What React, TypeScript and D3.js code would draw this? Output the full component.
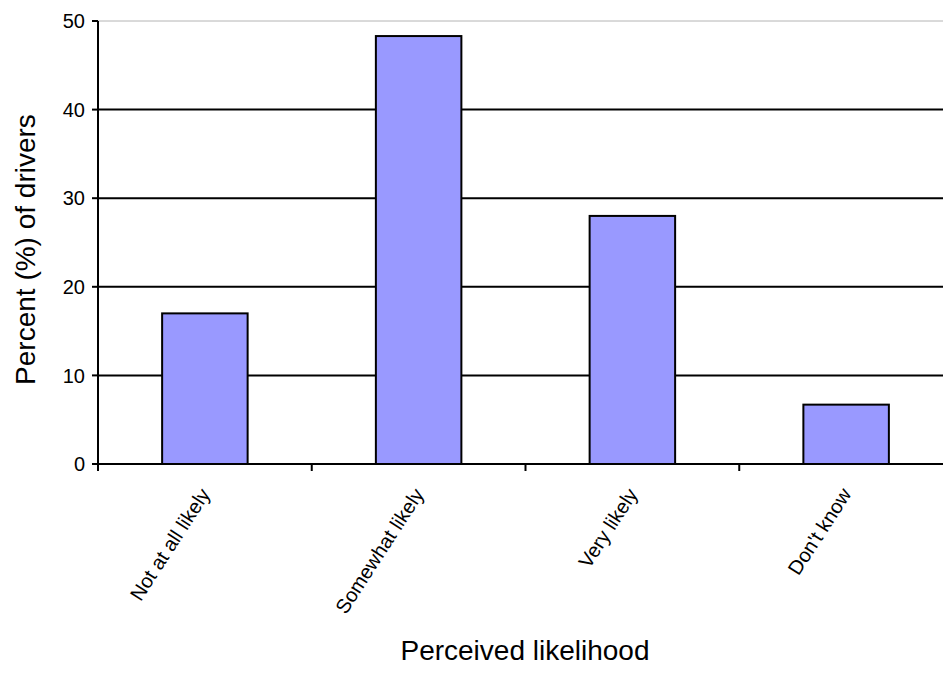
import React from "react";
import * as d3 from "d3";

const categories = ["Not at all likely", "Somewhat likely", "Very likely", "Don't know"];
const values = [17, 48.3, 28, 6.7];
const yTicks = [0, 10, 20, 30, 40, 50];

export default function App() {
  const W = 943, H = 686;
  const left = 98, right = 953, top = 21, bottom = 464;
  const x = d3.scaleBand<string>().domain(categories).range([left, right]).paddingInner(0).paddingOuter(0);
  const y = d3.scaleLinear().domain([0, 50]).range([bottom, top]);
  const bw = x.bandwidth() * 0.4;
  const font = "'Liberation Sans', Arial, sans-serif";
  return (
    <svg width={W} height={H} style={{ position: "absolute", left: 0, top: 0 }} fontFamily={font}>
      <rect width={W} height={H} fill="#fff" />
      {yTicks.map((t) => (
        <g key={t}>
          {t > 0 && (
            <line x1={left} x2={W} y1={y(t)} y2={y(t)} stroke={t === 50 ? "#b4b4b4" : "#000"} strokeWidth={t === 50 ? 1 : 2} />
          )}
          <line x1={left - 6} x2={left} y1={y(t)} y2={y(t)} stroke="#000" strokeWidth={2} />
          <text x={left - 13} y={y(t)} dy="0.36em" textAnchor="end" fontSize={20}>{t}</text>
        </g>
      ))}
      {categories.map((c, i) => {
        const cx = x(c)! + x.bandwidth() / 2;
        return (
          <rect key={c} x={cx - bw / 2} y={y(values[i])} width={bw} height={bottom - y(values[i])}
            fill="#9999ff" stroke="#000" strokeWidth={2} />
        );
      })}
      <line x1={left} x2={left} y1={top} y2={bottom} stroke="#000" strokeWidth={2} />
      <line x1={left} x2={W} y1={bottom} y2={bottom} stroke="#000" strokeWidth={2} />
      {categories.map((c) => (
        <line key={c + "t"} x1={x(c)!} x2={x(c)!} y1={bottom} y2={bottom + 7} stroke="#000" strokeWidth={2} />
      ))}
      {categories.map((c) => {
        const cx = x(c)! + x.bandwidth() / 2;
        return (
          <text key={c + "l"} transform={`translate(${cx + 6},${bottom + 30}) rotate(-57)`} textAnchor="end" fontSize={20}>{c}</text>
        );
      })}
      <text transform={`translate(35,${(top + bottom) / 2 + 7}) rotate(-90)`} textAnchor="middle" fontSize={28}>Percent (%) of drivers</text>
      <text x={525} y={660} textAnchor="middle" fontSize={28}>Perceived likelihood</text>
    </svg>
  );
}
